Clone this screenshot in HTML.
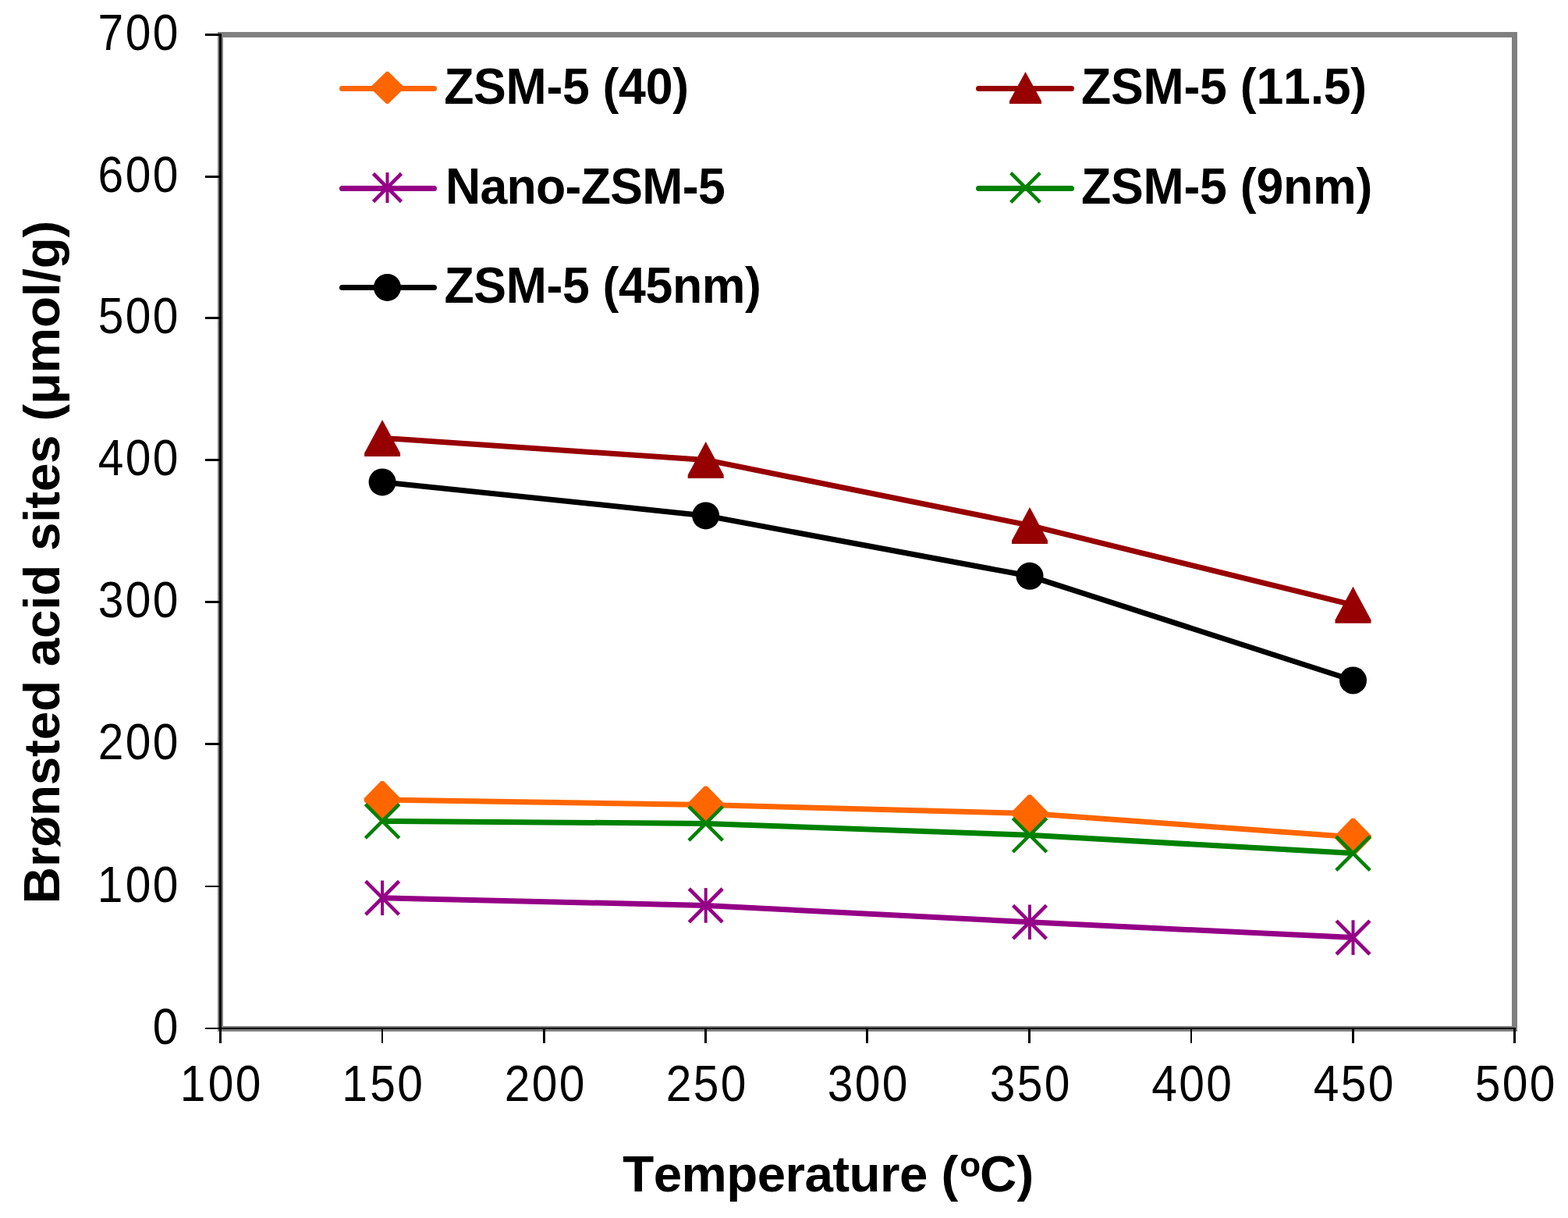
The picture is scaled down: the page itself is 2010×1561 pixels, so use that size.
<!DOCTYPE html>
<html><head><meta charset="utf-8"><title>Brønsted acid sites vs Temperature</title>
<style>
html,body{margin:0;padding:0;background:#fff;}
body{width:2010px;height:1561px;overflow:hidden;}
svg{display:block;}
text{font-family:"Liberation Sans",Arial,sans-serif;fill:#000;}
</style></head><body>
<svg width="2010" height="1561" viewBox="0 0 2010 1561">
<rect x="0" y="0" width="2010" height="1561" fill="#fff"/>
<rect x="282.5" y="44.5" width="1659" height="1274" fill="#fff" stroke="#808080" stroke-width="7"/>
<line x1="282.5" y1="43" x2="282.5" y2="1320" stroke="#000" stroke-width="3"/>
<line x1="281" y1="1318" x2="1943" y2="1318" stroke="#000" stroke-width="2"/>
<line x1="263" y1="1318" x2="284" y2="1318" stroke="#000" stroke-width="2"/>
<text transform="translate(0,1337.7) scale(0.904,1)" x="216.44" y="0" font-size="65">0</text>
<line x1="263" y1="1136" x2="284" y2="1136" stroke="#000" stroke-width="2"/>
<text transform="translate(0,1155.7) scale(0.904,1)" x="138.12 177.72 216.44" y="0" font-size="65">100</text>
<line x1="263" y1="953.5" x2="284" y2="953.5" stroke="#000" stroke-width="3"/>
<text transform="translate(0,973.2) scale(0.904,1)" x="139 177.72 216.44" y="0" font-size="65">200</text>
<line x1="263" y1="771.5" x2="284" y2="771.5" stroke="#000" stroke-width="3"/>
<text transform="translate(0,791.2) scale(0.904,1)" x="139.2 177.72 216.44" y="0" font-size="65">300</text>
<line x1="263" y1="589.5" x2="284" y2="589.5" stroke="#000" stroke-width="3"/>
<text transform="translate(0,609.2) scale(0.904,1)" x="139.21 177.72 216.44" y="0" font-size="65">400</text>
<line x1="263" y1="407.5" x2="284" y2="407.5" stroke="#000" stroke-width="3"/>
<text transform="translate(0,427.2) scale(0.904,1)" x="139.07 177.72 216.44" y="0" font-size="65">500</text>
<line x1="263" y1="226.5" x2="284" y2="226.5" stroke="#000" stroke-width="3"/>
<text transform="translate(0,246.2) scale(0.904,1)" x="138.78 177.72 216.44" y="0" font-size="65">600</text>
<line x1="263" y1="44.5" x2="284" y2="44.5" stroke="#000" stroke-width="3"/>
<text transform="translate(0,64.2) scale(0.904,1)" x="138.97 177.72 216.44" y="0" font-size="65">700</text>
<line x1="282.5" y1="1317" x2="282.5" y2="1337" stroke="#000" stroke-width="3"/>
<text transform="translate(0,1411.1) scale(0.904,1)" x="255.37 294.98 333.69" y="0" font-size="65">100</text>
<line x1="490" y1="1317" x2="490" y2="1337" stroke="#000" stroke-width="2"/>
<text transform="translate(0,1411.1) scale(0.904,1)" x="484.91 524.58 563.23" y="0" font-size="65">150</text>
<line x1="697.5" y1="1317" x2="697.5" y2="1337" stroke="#000" stroke-width="3"/>
<text transform="translate(0,1411.1) scale(0.904,1)" x="715.33 754.05 792.77" y="0" font-size="65">200</text>
<line x1="904.5" y1="1317" x2="904.5" y2="1337" stroke="#000" stroke-width="3"/>
<text transform="translate(0,1411.1) scale(0.904,1)" x="944.31 983.09 1021.75" y="0" font-size="65">250</text>
<line x1="1111.5" y1="1317" x2="1111.5" y2="1337" stroke="#000" stroke-width="3"/>
<text transform="translate(0,1411.1) scale(0.904,1)" x="1173.49 1212.01 1250.73" y="0" font-size="65">300</text>
<line x1="1319.5" y1="1317" x2="1319.5" y2="1337" stroke="#000" stroke-width="3"/>
<text transform="translate(0,1411.1) scale(0.904,1)" x="1403.58 1442.17 1480.82" y="0" font-size="65">350</text>
<line x1="1527" y1="1317" x2="1527" y2="1337" stroke="#000" stroke-width="2"/>
<text transform="translate(0,1411.1) scale(0.904,1)" x="1633.13 1671.64 1710.35" y="0" font-size="65">400</text>
<line x1="1734.5" y1="1317" x2="1734.5" y2="1337" stroke="#000" stroke-width="3"/>
<text transform="translate(0,1411.1) scale(0.904,1)" x="1862.66 1901.24 1939.89" y="0" font-size="65">450</text>
<line x1="1941.5" y1="1317" x2="1941.5" y2="1337" stroke="#000" stroke-width="3"/>
<text transform="translate(0,1411.1) scale(0.904,1)" x="2091.5 2130.16 2168.87" y="0" font-size="65">500</text>
<polyline points="490.1,1025 904.7,1031.5 1320,1042.5 1734.5,1072.8" fill="none" stroke="#FF6600" stroke-width="7" stroke-linejoin="round"/>
<polygon points="488.3,1001 491.9,1001 513.5,1023.2 513.5,1026.8 491.9,1049 488.3,1049 466.7,1026.8 466.7,1023.2" fill="#FF6600"/>
<polygon points="902.9,1007.5 906.5,1007.5 928.1,1029.7 928.1,1033.3 906.5,1055.5 902.9,1055.5 881.3,1033.3 881.3,1029.7" fill="#FF6600"/>
<polygon points="1318.2,1018.5 1321.8,1018.5 1343.4,1040.7 1343.4,1044.3 1321.8,1066.5 1318.2,1066.5 1296.6,1044.3 1296.6,1040.7" fill="#FF6600"/>
<polygon points="1732.7,1048.8 1736.3,1048.8 1757.9,1071 1757.9,1074.6 1736.3,1096.8 1732.7,1096.8 1711.1,1074.6 1711.1,1071" fill="#FF6600"/>
<polyline points="490.1,561.4 904.7,589.4 1320,673.4 1734.5,775.3" fill="none" stroke="#970000" stroke-width="7" stroke-linejoin="round"/>
<polygon points="490.1,537.9 513.1,580.7 513.1,584.9 467.1,584.9 467.1,580.7" fill="#970000"/>
<polygon points="904.7,565.9 927.7,608.7 927.7,612.9 881.7,612.9 881.7,608.7" fill="#970000"/>
<polygon points="1320,649.9 1343,692.7 1343,696.9 1297,696.9 1297,692.7" fill="#970000"/>
<polygon points="1734.5,751.8 1757.5,794.6 1757.5,798.8 1711.5,798.8 1711.5,794.6" fill="#970000"/>
<polyline points="490.1,1150.8 904.7,1160.4 1320,1181.8 1734.5,1201.6" fill="none" stroke="#940086" stroke-width="7" stroke-linejoin="round"/>
<path d="M490.1,1128.5 V1173.1" stroke="#940086" stroke-width="4" fill="none"/><path d="M468.7,1129.4 L511.5,1172.2 M468.7,1172.2 L511.5,1129.4" stroke="#940086" stroke-width="4.6" fill="none"/>
<path d="M904.7,1138.1 V1182.7" stroke="#940086" stroke-width="4" fill="none"/><path d="M883.3,1139 L926.1,1181.8 M883.3,1181.8 L926.1,1139" stroke="#940086" stroke-width="4.6" fill="none"/>
<path d="M1320,1159.5 V1204.1" stroke="#940086" stroke-width="4" fill="none"/><path d="M1298.6,1160.4 L1341.4,1203.2 M1298.6,1203.2 L1341.4,1160.4" stroke="#940086" stroke-width="4.6" fill="none"/>
<path d="M1734.5,1179.3 V1223.9" stroke="#940086" stroke-width="4" fill="none"/><path d="M1713.1,1180.2 L1755.9,1223 M1713.1,1223 L1755.9,1180.2" stroke="#940086" stroke-width="4.6" fill="none"/>
<polyline points="490.1,1052.4 904.7,1055.4 1320,1070.3 1734.5,1093.6" fill="none" stroke="#008100" stroke-width="7" stroke-linejoin="round"/>
<path d="M468.4,1030.7 L511.8,1074.1 M468.4,1074.1 L511.8,1030.7" stroke="#008100" stroke-width="4.5" fill="none"/>
<path d="M883,1033.7 L926.4,1077.1 M883,1077.1 L926.4,1033.7" stroke="#008100" stroke-width="4.5" fill="none"/>
<path d="M1298.3,1048.6 L1341.7,1092 M1298.3,1092 L1341.7,1048.6" stroke="#008100" stroke-width="4.5" fill="none"/>
<path d="M1712.8,1071.9 L1756.2,1115.3 M1712.8,1115.3 L1756.2,1071.9" stroke="#008100" stroke-width="4.5" fill="none"/>
<polyline points="490.1,617.9 904.7,660.9 1320,738.3 1734.5,872" fill="none" stroke="#000000" stroke-width="7" stroke-linejoin="round"/>
<ellipse cx="490.1" cy="617.9" rx="17.5" ry="17.5" fill="#000000"/>
<ellipse cx="904.7" cy="660.9" rx="17.5" ry="17.5" fill="#000000"/>
<ellipse cx="1320" cy="738.3" rx="17.5" ry="17.5" fill="#000000"/>
<ellipse cx="1734.5" cy="872" rx="17.5" ry="17.5" fill="#000000"/>
<line x1="438.5" y1="113.4" x2="556.5" y2="113.4" stroke="#FF6600" stroke-width="7" stroke-linecap="round"/>
<polygon points="495.2,91.8 497.8,91.8 517.5,111.1 517.5,113.7 497.8,133 495.2,133 475.5,113.7 475.5,111.1" fill="#FF6600"/>
<text transform="translate(569.14,132.8) scale(0.978,1)" x="0 38.8 81.19 134.21 155.23 190.53 208.01 229.03 264.33 299.63" y="0" font-size="64" font-weight="bold">ZSM-5 (40)</text>
<line x1="1254.5" y1="113.4" x2="1373.5" y2="113.4" stroke="#970000" stroke-width="7" stroke-linecap="round"/>
<polygon points="1314.5,92 1335,129.4 1335,132.9 1294,132.9 1294,129.4" fill="#970000"/>
<text transform="translate(1386.04,132.8) scale(0.978,1)" x="0 38.86 81.32 134.4 155.48 190.84 208.39 229.47 264.83 300.2 317.74 353.11" y="0" font-size="64" font-weight="bold">ZSM-5 (11.5)</text>
<line x1="438.5" y1="241.4" x2="556.5" y2="241.4" stroke="#940086" stroke-width="7" stroke-linecap="round"/>
<path d="M496.5,221 V260" stroke="#940086" stroke-width="4" fill="none"/><path d="M478.5,222.5 L514.5,258.5 M478.5,258.5 L514.5,222.5" stroke="#940086" stroke-width="4.6" fill="none"/>
<text transform="translate(570.91,261) scale(0.978,1)" x="0 45.51 80.39 118.77 157.15 177.75 216.13 258.11 310.71 331.31" y="0" font-size="64" font-weight="bold">Nano-ZSM-5</text>
<line x1="1254.5" y1="241.4" x2="1373.5" y2="241.4" stroke="#008100" stroke-width="7" stroke-linecap="round"/>
<path d="M1295.7,221.7 L1333.3,259.3 M1295.7,259.3 L1333.3,221.7" stroke="#008100" stroke-width="4.5" fill="none"/>
<text transform="translate(1386.04,261) scale(0.978,1)" x="0 38.86 81.32 134.4 155.48 190.84 208.39 229.47 264.83 303.69 360.37" y="0" font-size="64" font-weight="bold">ZSM-5 (9nm)</text>
<line x1="438.5" y1="368.4" x2="556.5" y2="368.4" stroke="#000000" stroke-width="7" stroke-linecap="round"/>
<ellipse cx="496.5" cy="368.4" rx="17.5" ry="17.5" fill="#000000"/>
<text transform="translate(569.44,387.9) scale(0.978,1)" x="0 38.73 81.06 134.01 154.96 190.2 207.62 228.57 263.8 299.03 337.77 394.31" y="0" font-size="64" font-weight="bold">ZSM-5 (45nm)</text>
<text transform="translate(0,1526.8)" y="0" font-size="65.5" font-weight="bold"><tspan x="798.26 837.71 873.57 931.25 970.69 1006.55 1031.48 1067.34 1088.59 1128.03 1152.96 1188.82 1206.45" y="0">Temperature (</tspan><tspan x="1230.28" y="-19.3" font-size="44">o</tspan><tspan x="1256.11 1303.45" y="0">C)</tspan></text>
<text transform="translate(76,1158.18) rotate(-90) scale(1.0,1)" x="0 47.11 72.4 112.22 152.03 188.27 209.88 246.12 285.93 303.94 340.17 376.4 394.41 434.22 452.23 488.46 506.46 528.08 564.31 600.55 618.55 640.17 680.05 738.09 777.91 795.91 813.92 853.73" y="0" font-size="65.5" font-weight="bold">Brønsted acid sites (μmol/g)</text>
</svg>
</body></html>
